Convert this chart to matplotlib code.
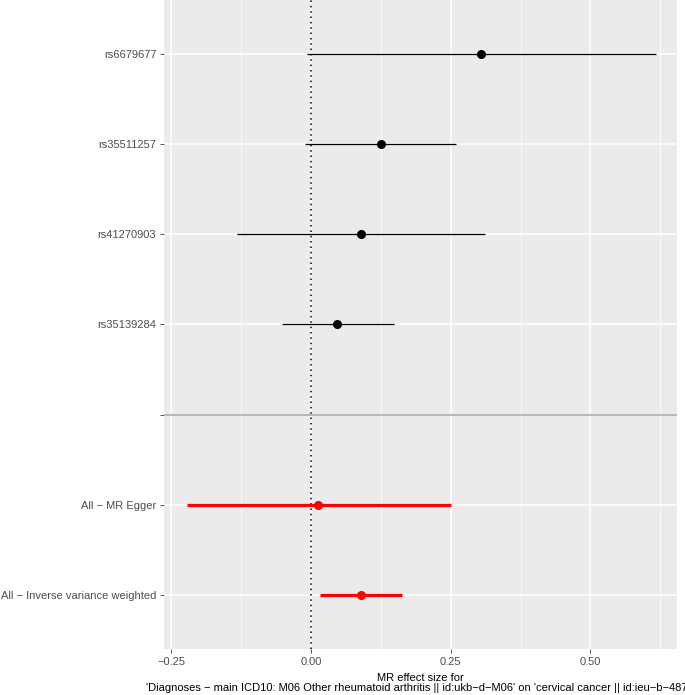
import matplotlib
matplotlib.use("Agg")
import matplotlib.pyplot as plt
from matplotlib.ticker import MultipleLocator

plt.rcParams['font.family'] = ['Liberation Sans', 'DejaVu Sans']

# SNP rows, top to bottom
snps = ["rs6679677", "rs35511257", "rs41270903", "rs35139284"]
snp_b = [0.305, 0.125, 0.090, 0.047]
snp_lo = [-0.008, -0.010, -0.132, -0.052]
snp_hi = [0.618, 0.260, 0.312, 0.148]

# combined estimates, top to bottom
methods = ["All \u2212 MR Egger", "All \u2212 Inverse variance weighted"]
meth_b = [0.013, 0.089]
meth_lo = [-0.222, 0.017]
meth_hi = [0.250, 0.163]

labels = snps + [""] + methods
xlabel = ("MR effect size for\n'Diagnoses \u2212 main ICD10: M06 Other rheumatoid arthritis "
          "|| id:ukb\u2212d\u2212M06' on 'cervical cancer || id:ieu\u2212b\u22124876'")

fig = plt.figure(figsize=(6.85, 6.95), dpi=100)
ax = fig.add_axes([164 / 685, 1 - 649 / 695, (677 - 164) / 685, 649 / 695])
ax.set_facecolor("#ebebeb")

n = len(labels)
ypos = list(range(n, 0, -1))
ax.set_ylim(0.4, n + 0.6)
ax.set_xlim(-0.263, 0.655)

ax.xaxis.set_major_locator(MultipleLocator(0.25))
ax.xaxis.set_minor_locator(MultipleLocator(0.125))
ax.grid(which="major", color="white", linewidth=1.1)
ax.grid(which="minor", axis="x", color="white", linewidth=0.55)
ax.set_axisbelow(True)

ax.set_yticks(ypos)
ax.set_yticklabels(labels)
ax.set_xticks([-0.25, 0, 0.25, 0.5])
ax.set_xticklabels(["\u22120.25", "0.00", "0.25", "0.50"])

for s in ax.spines.values():
    s.set_visible(False)
ax.tick_params(which="major", length=3, color="#555555", labelcolor="#4d4d4d",
               labelsize=8.0, width=0.7, pad=2.5)
ax.tick_params(which="minor", length=0)

ax.axvline(0, color="black", linestyle=(0, (1, 2.5)), linewidth=1.1, zorder=2)
sep_y = ypos[len(snps)]
ax.axhline(sep_y, color="#b3b3b3", linewidth=1.3, zorder=2)

snp_y = ypos[:len(snps)]
ax.hlines(snp_y, snp_lo, snp_hi, color="black", linewidth=0.9, zorder=3)
ax.plot(snp_b, snp_y, "o", color="black", markersize=5.5, zorder=4)

meth_y = ypos[len(snps) + 1:]
ax.hlines(meth_y, meth_lo, meth_hi, color="red", linewidth=2.3, zorder=3)
ax.plot(meth_b, meth_y, "o", color="red", markersize=5.5, zorder=4)

ax.set_xlabel(xlabel, fontsize=8.0, color="black", labelpad=4.5, linespacing=1.05)

fig.savefig("out.png", dpi=100)
